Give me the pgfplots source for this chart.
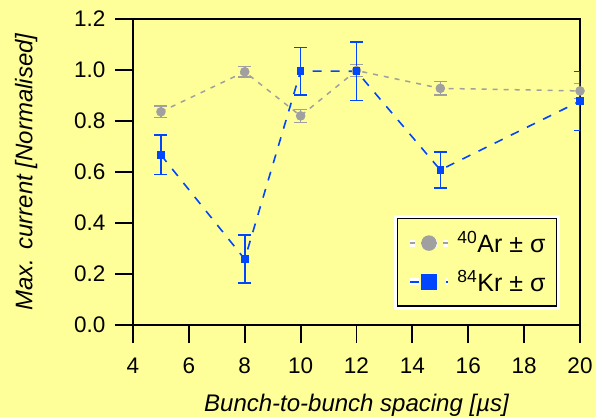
\documentclass[border=0pt]{standalone}
\usepackage{pgfplots}
\pgfplotsset{compat=1.18}
\usepackage{fontspec}
\setmainfont{Liberation Sans}
\definecolor{bg}{RGB}{255,255,153}
\definecolor{argray}{RGB}{160,160,160}
\definecolor{krblue}{RGB}{0,70,255}
\begin{document}
\begin{tikzpicture}
\fill[bg] (-133pt,-92pt) rectangle (463pt,325pt);
\begin{axis}[
  at={(0pt,0pt)}, anchor=south west,
  scale only axis, width=447pt, height=306pt,
  xmin=4, xmax=20, ymin=0, ymax=1.2,
  xtick={4,6,...,20}, ytick={0,0.2,...,1.2},
  /pgf/number format/assume math mode=true,
  tick label style={font=\fontsize{22.5}{24}\selectfont},
  xticklabel style={yshift=-11pt},
  yticklabel style={xshift=-6pt, /pgf/number format/.cd, fixed, fixed zerofill, precision=1},
  axis line style={line width=1.8pt},
  tick style={line width=1.8pt, black},
  major tick length=18pt,
  tick align=outside,
  xtick pos=left, ytick pos=left,
  axis background/.style={fill=bg},
  xlabel={\itshape Bunch-to-bunch spacing [µs]},
  ylabel={\itshape Max. current [Normalised]},
  label style={font=\fontsize{24}{26}\selectfont},
  xlabel style={at={(axis description cs:0.5,-0.262)}, anchor=center},
  ylabel style={at={(axis description cs:-0.239,0.5)}, anchor=center, rotate=0},
  legend style={at={(0.949,0.059)}, anchor=south east, fill=bg, draw=black,
    line width=1.5pt, preaction={draw=white, line width=7pt},
    font=\fontsize{25}{27}\selectfont, row sep=12pt, inner xsep=9pt, inner ysep=11pt,
    /tikz/every odd column/.append style={column sep=4pt}},
  legend cell align=left,
  legend image code/.code={\draw[mark repeat=2,mark phase=2,mark size=7pt] plot coordinates {(0pt,0pt) (19pt,0pt) (38pt,0pt)};},
]
\addplot[color=argray, line width=1.5pt, dash pattern=on 5pt off 6pt,
  mark=*, mark size=4pt, mark options={solid, fill=argray},
  error bars/.cd, y dir=both, y explicit,
  error bar style={line width=1.5pt, solid, color=argray},
  error mark options={rotate=90, mark size=6.5pt, line width=1.5pt, color=argray}]
  coordinates {
  (5,0.836) +- (0,0.022)
  (8,0.993) +- (0,0.020)
  (10,0.820) +- (0,0.025)
  (12,0.998) +- (0,0.024)
  (15,0.928) +- (0,0.027)
  (20,0.918) +- (0,0.030)
  };
\addlegendentry{\textsuperscript{40}Ar ± σ}
\addplot[color=krblue, line width=1.6pt, dash pattern=on 9pt off 9pt,
  mark=square*, mark size=3pt, mark options={solid, fill=krblue},
  error bars/.cd, y dir=both, y explicit,
  error bar style={line width=1.6pt, solid, color=krblue},
  error mark options={rotate=90, mark size=6.5pt, line width=1.6pt, color=krblue}]
  coordinates {
  (5,0.667) +- (0,0.077)
  (8,0.258) +- (0,0.094)
  (10,0.996) +- (0,0.093)
  (12,0.995) +- (0,0.114)
  (15,0.608) +- (0,0.071)
  (20,0.878) +- (0,0.116)
  };
\addlegendentry{\textsuperscript{84}Kr ± σ}
\end{axis}
\end{tikzpicture}
\end{document}
